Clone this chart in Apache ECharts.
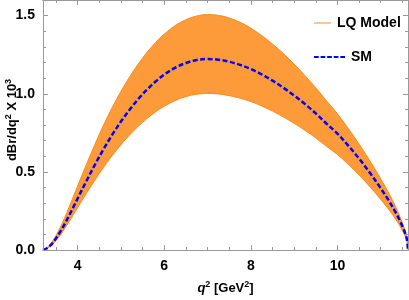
<!DOCTYPE html>
<html><head><meta charset="utf-8">
<script src="https://cdn.jsdelivr.net/npm/echarts@6/dist/echarts.min.js"></script>
<style>html,body{margin:0;padding:0;background:#fff}#c{width:409px;height:300px}</style>
</head><body><div id="c"></div>
<script>
const q2 = [3.2,3.3,3.4,3.5,3.6,3.7,3.8,3.9,4.0,4.2,4.4,4.6,4.8,5.0,5.2,5.4,5.6,5.8,6.0,6.25,6.5,6.75,7.0,7.25,7.5,7.75,8.0,8.25,8.5,8.75,9.0,9.25,9.5,9.75,10.0,10.25,10.5,10.75,11.0,11.2,11.35,11.45,11.55,11.6,11.63];
const sm = [0,0.013,0.038,0.074,0.117,0.166,0.219,0.274,0.33,0.44,0.546,0.646,0.738,0.822,0.898,0.966,1.026,1.078,1.122,1.166,1.197,1.216,1.222,1.218,1.205,1.185,1.158,1.124,1.084,1.039,0.989,0.934,0.874,0.808,0.745,0.668,0.585,0.494,0.395,0.31,0.238,0.183,0.118,0.075,0];
const lqUpper = [0,0.017,0.048,0.093,0.146,0.207,0.273,0.341,0.41,0.546,0.677,0.80,0.913,1.015,1.108,1.191,1.264,1.328,1.382,1.436,1.474,1.498,1.507,1.502,1.485,1.458,1.42,1.373,1.318,1.257,1.19,1.116,1.038,0.954,0.872,0.778,0.678,0.571,0.455,0.357,0.274,0.21,0.135,0.086,0];
const lqLower = [0,0.011,0.031,0.061,0.096,0.136,0.18,0.225,0.271,0.361,0.448,0.53,0.605,0.674,0.736,0.792,0.841,0.884,0.92,0.956,0.982,0.997,1.002,0.999,0.988,0.972,0.95,0.922,0.889,0.852,0.811,0.766,0.717,0.663,0.611,0.548,0.48,0.405,0.324,0.254,0.195,0.15,0.097,0.062,0];
const xMajor = [4,6,8,10];
const xMinor = [3.5,4.5,5,5.5,6.5,7,7.5,8.5,9,9.5,10.5,11,11.5];
const yMajor = [0,0.5,1.0,1.5];
const yMinor = [0.1,0.2,0.3,0.4,0.6,0.7,0.8,0.9,1.1,1.2,1.3,1.4];
const names = ['LQ Model','SM'];

const font = '"Liberation Sans", Arial, sans-serif';
const axisCol = '#999999';
const bandFill = '#FD9A3A', bandEdge = '#F88E1C', smCol = '#0000FF';
const xMin = 3.2, xMax = 11.63, yMin = 0, yMax = 1.6;

function xAx(pos, vals, len, labels, extra){
  return Object.assign({
    type:'value', position:pos, min:xMin, max:xMax, gridIndex:0, z:10,
    axisLine:{show:true,onZero:false,lineStyle:{color:axisCol,width:1}},
    axisTick:{show:true,inside:true,length:len,customValues:vals,lineStyle:{color:axisCol}},
    axisLabel:{show:labels,customValues:vals,margin:9,color:'#000',fontFamily:font,fontWeight:'bold',fontSize:14},
    splitLine:{show:false}
  }, extra||{});
}
function yAx(pos, vals, len, labels, extra){
  return Object.assign({
    type:'value', position:pos, min:yMin, max:yMax, gridIndex:0, z:10,
    axisLine:{show:true,onZero:false,lineStyle:{color:axisCol,width:1}},
    axisTick:{show:true,inside:true,length:len,customValues:vals,lineStyle:{color:axisCol}},
    axisLabel:{show:labels,customValues:vals,margin:8,color:'#000',fontFamily:font,fontWeight:'bold',fontSize:14,
      formatter:v=>v.toFixed(1)},
    splitLine:{show:false}
  }, extra||{});
}

const lineIcon = 'path://M0,0h30v2h-30z';
const dashIcon = 'path://M0,0h5v2h-5z M7,0h5v2h-5z M14,0h5v2h-5z M21,0h5v2h-5z M28,0h5v2h-5z';
const sm_ = 0.35;

const option = {
  animation:false,
  grid:{left:43,right:1,top:0,bottom:50,containLabel:false,outerBoundsMode:'none'},
  xAxis:[
    xAx('bottom', xMajor, 5, true, {
      name:'{i|q}{s|2}{n| [GeV}{s|2}{n|]}', nameLocation:'middle', nameGap:30, nameMoveOverlap:false,
      nameTextStyle:{rich:{
        i:{fontFamily:font,fontWeight:'bold',fontStyle:'italic',fontSize:13,color:'#000'},
        n:{fontFamily:font,fontWeight:'bold',fontSize:13,color:'#000'},
        s:{fontFamily:font,fontWeight:'bold',fontSize:9,color:'#000',padding:[0,0,7,0]}
      }}
    }),
    xAx('bottom', xMinor, 3, false),
    xAx('top', xMajor, 5, false),
    xAx('top', xMinor, 3, false)
  ],
  yAxis:[
    yAx('left', yMajor, 5, true, {
      name:'{n|dBr/dq}{s|2}{n| X 10}{s|3}', nameLocation:'middle', nameGap:23, nameRotate:90, nameMoveOverlap:false,
      nameTextStyle:{padding:[0,0,0,10],rich:{
        n:{fontFamily:font,fontWeight:'bold',fontSize:13,color:'#000'},
        s:{fontFamily:font,fontWeight:'bold',fontSize:9,color:'#000',padding:[0,0,7,0]}
      }}
    }),
    yAx('left', yMinor, 3, false),
    yAx('right', yMajor, 5, false),
    yAx('right', yMinor, 3, false)
  ],
  legend:[
    {data:[{name:names[0],icon:lineIcon,itemStyle:{color:bandFill}}], orient:'vertical', left:309, top:11, itemWidth:17, itemHeight:2, itemGap:0,
      textStyle:{fontFamily:font,fontWeight:'bold',fontSize:14,color:'#000',padding:[0,0,0,1]}, selectedMode:false},
    {data:[{name:names[1],icon:dashIcon,itemStyle:{color:smCol}}], orient:'vertical', left:309, top:45, itemWidth:31, itemHeight:2, itemGap:0,
      textStyle:{fontFamily:font,fontWeight:'bold',fontSize:14,color:'#000',padding:[0,0,0,1]}, selectedMode:false}
  ],
  series:[
    {name:names[0], type:'line', data:q2.map((x,i)=>[x,lqUpper[i]]),
      showSymbol:false, smooth:sm_,
      lineStyle:{color:bandEdge,width:1}, itemStyle:{color:bandFill},
      areaStyle:{color:bandFill,opacity:1,origin:'start'}, z:1},
    {name:'lqLowerMask', type:'line', data:q2.map((x,i)=>[x,lqLower[i]]),
      showSymbol:false, smooth:sm_,
      lineStyle:{color:bandEdge,width:1}, itemStyle:{color:'#fff'},
      areaStyle:{color:'#ffffff',opacity:1,origin:'start'}, z:2},
    {name:names[1], type:'line', data:q2.map((x,i)=>[x,sm[i]]),
      showSymbol:false, smooth:sm_,
      lineStyle:{color:smCol,width:2.5,type:[5,2.5]}, itemStyle:{color:smCol}, z:3}
  ]
};
const chart = echarts.init(document.getElementById('c'), null, {renderer:'canvas'});
chart.setOption(option);
</script>
</body></html>
